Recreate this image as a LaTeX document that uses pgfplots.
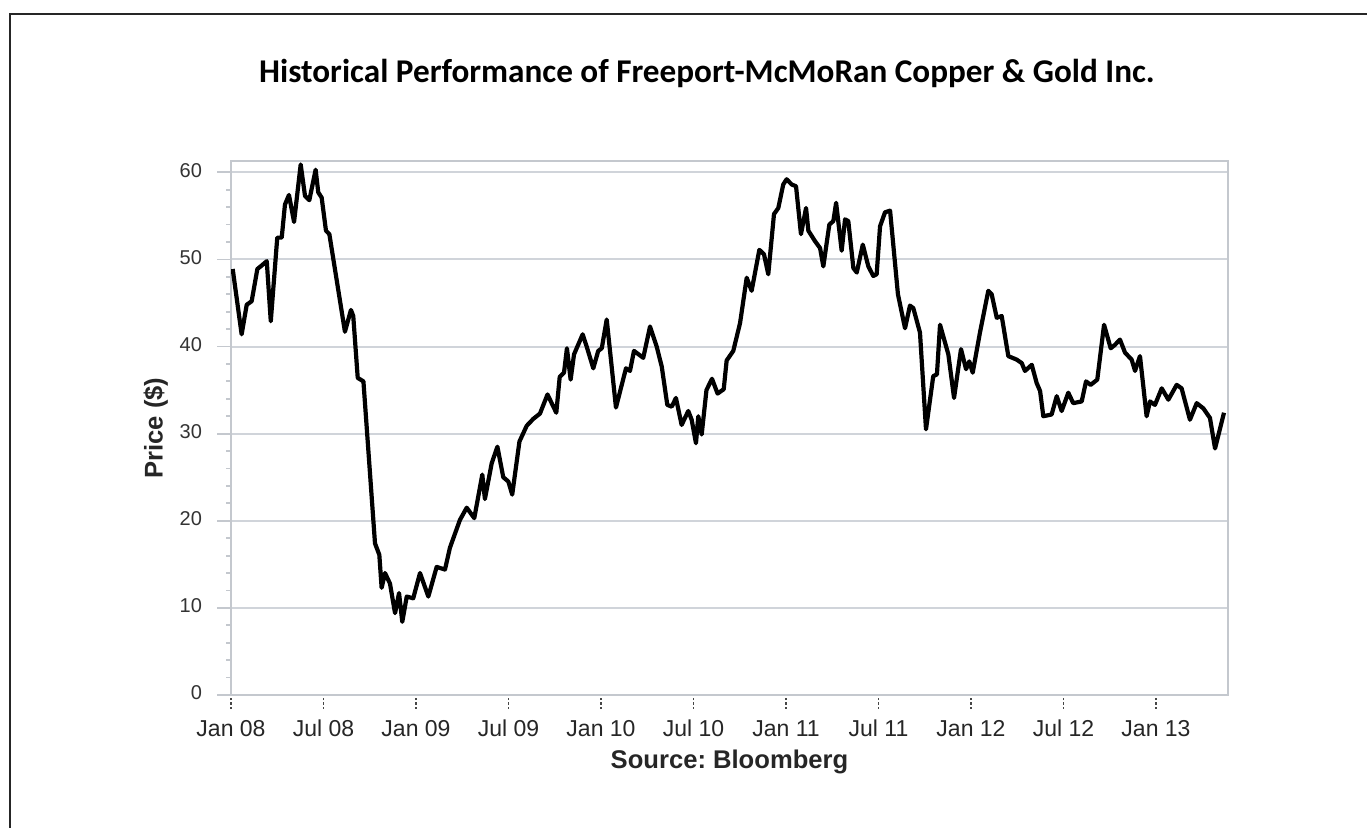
\documentclass[border=0pt]{standalone}
\usepackage{pgfplots}
\pgfplotsset{compat=1.18}
\usepackage{fontspec}
\setmainfont{Liberation Sans}
\newfontfamily\titlefont{Carlito}
\definecolor{gridc}{RGB}{208,212,218}
\definecolor{axc}{RGB}{196,200,206}
\definecolor{tickc}{RGB}{70,70,70}
\frenchspacing
\begin{document}
\begin{tikzpicture}
\useasboundingbox (0pt,0pt) rectangle (683.5pt,414pt);
\fill[white] (0pt,0pt) rectangle (683.5pt,414pt);
\draw[line width=1.1pt,black!85] (5pt,-20pt) -- (5pt,407pt) -- (720pt,407pt);
\node[anchor=base,font=\titlefont\bfseries\fontsize{16.6}{18}\selectfont] at (353.5pt,372.5pt)
  {Historical Performance of Freeport-McMoRan Copper \& Gold Inc.};
\begin{axis}[
  at={(115.5pt,66.5pt)}, anchor=south west,
  scale only axis, width=498.5pt, height=267pt,
  xmin=0, xmax=64.67, ymin=0, ymax=61.3,
  /pgf/number format/assume math mode=true,
  axis line style={axc, line width=0.9pt},
  tick pos=left, tick align=outside,
  xtick={0,6,12,18,24,30,36,42,48,54,60},
  xticklabels={Jan 08,Jul 08,Jan 09,Jul 09,Jan 10,Jul 10,Jan 11,Jul 11,Jan 12,Jul 12,Jan 13},
  ytick={0,10,20,30,40,50,60},
  minor y tick num=4,
  major tick length=7pt, minor tick length=2.5pt,
  xtick style={tickc, line width=0.9pt, dash pattern=on 1.2pt off 1pt},
  ytick style={axc, line width=0.9pt},
  minor tick style={axc, line width=0.8pt},
  ymajorgrids, major grid style={gridc, line width=1pt, solid},
  typeset ticklabels with strut,
  xticklabel style={font=\fontsize{11.5}{13}\selectfont, text=black!85, yshift=-1pt},
  yticklabel style={font=\fontsize{10}{12}\selectfont, text=black!80, xshift=-4pt},
  xlabel={\bfseries Source: Bloomberg},
  ylabel={\bfseries Price (\$)},
  xlabel style={font=\fontsize{12.8}{14}\selectfont, text=black!85, yshift=4pt},
  ylabel style={font=\fontsize{12.8}{14}\selectfont, text=black!85, yshift=-1pt},
]
\addplot[black, line width=2.1pt, line join=round] coordinates {
(0.11,48.9)(0.69,41.4)(1.02,44.8)(1.34,45.2)(1.71,48.9)(1.99,49.3)(2.32,49.8)(2.58,42.9)
(3.00,52.5)(3.29,52.5)(3.50,56.3)(3.76,57.4)(4.09,54.3)(4.52,60.9)(4.80,57.3)(5.08,56.8)
(5.49,60.3)(5.66,57.7)(5.88,57.1)(6.16,53.3)(6.38,52.9)(7.39,41.7)(7.78,44.2)(7.93,43.5)
(8.22,36.4)(8.59,36.0)(9.34,17.4)(9.62,16.1)(9.77,12.3)(9.99,14.0)(10.31,12.8)(10.64,9.4)
(10.90,11.7)(11.11,8.4)(11.40,11.3)(11.82,11.1)(12.26,14.0)(12.80,11.3)(13.34,14.7)(13.88,14.4)
(14.20,16.9)(14.85,20.1)(15.29,21.5)(15.78,20.3)(16.30,25.3)(16.47,22.5)(16.91,26.6)(17.28,28.5)
(17.66,25.0)(17.99,24.5)(18.24,23.0)(18.71,29.1)(19.18,30.9)(19.61,31.7)(20.04,32.3)(20.53,34.5)
(20.80,33.5)(21.10,32.4)(21.32,36.5)(21.60,37.0)(21.79,39.8)(22.03,36.2)(22.25,39.1)(22.81,41.4)
(23.07,40.0)(23.50,37.5)(23.82,39.5)(24.05,39.8)(24.37,43.1)(24.97,33.0)(25.62,37.5)(25.88,37.2)
(26.14,39.5)(26.74,38.7)(27.18,42.3)(27.61,40.0)(27.94,37.7)(28.30,33.3)(28.59,33.1)(28.86,34.1)
(29.23,31.0)(29.66,32.6)(29.88,31.6)(30.16,28.9)(30.31,32.0)(30.53,29.9)(30.84,35.0)(31.20,36.3)
(31.56,34.6)(31.96,35.1)(32.15,38.4)(32.58,39.5)(33.02,42.7)(33.45,47.9)(33.77,46.4)(34.27,51.1)
(34.57,50.6)(34.85,48.3)(35.22,55.2)(35.50,55.9)(35.82,58.6)(36.04,59.2)(36.37,58.6)(36.65,58.4)
(36.97,52.9)(37.30,55.9)(37.45,53.3)(37.88,52.1)(38.21,51.3)(38.42,49.2)(38.81,54.0)(39.07,54.4)
(39.25,56.5)(39.61,51.0)(39.83,54.6)(40.04,54.4)(40.37,49.0)(40.59,48.5)(40.98,51.7)(41.34,49.2)
(41.66,48.1)(41.88,48.3)(42.10,53.8)(42.42,55.4)(42.75,55.6)(43.26,46.0)(43.72,42.1)(44.04,44.7)
(44.26,44.4)(44.69,41.6)(45.08,30.5)(45.55,36.6)(45.79,36.8)(45.99,42.5)(46.53,39.1)(46.90,34.1)
(47.35,39.7)(47.68,37.4)(47.89,38.3)(48.11,37.0)(48.58,41.6)(49.12,46.4)(49.34,46.0)(49.67,43.3)
(49.99,43.5)(50.42,38.9)(50.96,38.5)(51.29,38.1)(51.50,37.2)(51.94,37.9)(52.26,35.8)(52.48,34.9)
(52.69,32.0)(53.23,32.2)(53.56,34.3)(53.88,32.6)(54.31,34.7)(54.63,33.5)(55.18,33.7)(55.46,36.0)
(55.76,35.6)(56.19,36.2)(56.63,42.5)(57.06,39.8)(57.34,40.2)(57.66,40.8)(57.99,39.3)(58.42,38.5)
(58.64,37.2)(58.96,38.9)(59.39,32.0)(59.61,33.7)(59.93,33.3)(60.37,35.2)(60.80,33.9)(61.34,35.6)
(61.66,35.2)(62.20,31.6)(62.64,33.5)(63.07,32.9)(63.50,31.8)(63.83,28.3)(64.41,32.4)
};
\end{axis}
\end{tikzpicture}
\end{document}
